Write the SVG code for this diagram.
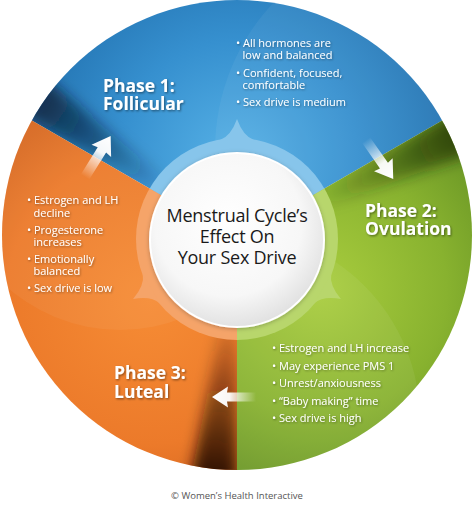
<svg xmlns="http://www.w3.org/2000/svg" width="474" height="509" viewBox="0 0 474 509">
<defs>
<style>
.ph{font-family:"Open Sans","DejaVu Sans",sans-serif;font-weight:700;font-size:17.5px;fill:#fff;filter:url(#ts)}
.li{font-family:"Open Sans","DejaVu Sans",sans-serif;font-size:11px;fill:#fff;filter:url(#ts2)}
.ct{font-family:"Open Sans","DejaVu Sans",sans-serif;font-size:18px;fill:#1a1a1a;letter-spacing:-0.25px;text-anchor:middle}
.cp{font-family:"Open Sans","DejaVu Sans",sans-serif;font-size:9.5px;fill:#555;text-anchor:middle}
</style>
<filter id="ts" x="-10%" y="-20%" width="130%" height="150%"><feDropShadow dx="1" dy="1.2" stdDeviation="1.2" flood-color="#000" flood-opacity="0.45"/></filter>
<filter id="ts2" x="-10%" y="-30%" width="130%" height="170%"><feDropShadow dx="0.8" dy="1" stdDeviation="0.9" flood-color="#000" flood-opacity="0.4"/></filter>
<filter id="blur"><feGaussianBlur stdDeviation="7"/></filter>
<filter id="ws" x="-20%" y="-20%" width="140%" height="140%"><feDropShadow dx="0" dy="1" stdDeviation="2" flood-color="#000" flood-opacity="0.25"/></filter>
<clipPath id="disk"><circle cx="237" cy="235" r="235"/></clipPath>
<clipPath id="cBlue"><polygon points="237,239 -109.4,39 -200,-300 700,-300 583.4,39"/></clipPath>
<clipPath id="cGreen"><polygon points="237,239 583.4,39 700,39 700,700 237,700"/></clipPath>
<clipPath id="cOrange"><polygon points="237,239 237,700 -200,700 -200,39 -109.4,39"/></clipPath>
<radialGradient id="gBlue" gradientUnits="userSpaceOnUse" cx="237" cy="160" r="240"><stop offset="0" stop-color="#56b1e6"/><stop offset="0.5" stop-color="#3690cf"/><stop offset="1" stop-color="#1f6dab"/></radialGradient>
<radialGradient id="gGreen" gradientUnits="userSpaceOnUse" cx="320" cy="290" r="230"><stop offset="0" stop-color="#a9cd3e"/><stop offset="0.55" stop-color="#88b22f"/><stop offset="1" stop-color="#5f8c22"/></radialGradient>
<radialGradient id="gOrange" gradientUnits="userSpaceOnUse" cx="150" cy="300" r="240"><stop offset="0" stop-color="#f68c35"/><stop offset="0.6" stop-color="#ec7a2a"/><stop offset="1" stop-color="#cd5f1b"/></radialGradient>
<linearGradient id="shB" gradientUnits="userSpaceOnUse" x1="237" y1="239" x2="44.5" y2="104.2"><stop offset="0.35" stop-color="#0a1a30" stop-opacity="0"/><stop offset="1" stop-color="#0a1a30" stop-opacity="0.75"/></linearGradient>
<linearGradient id="shG" gradientUnits="userSpaceOnUse" x1="237" y1="239" x2="450" y2="139.7"><stop offset="0.35" stop-color="#1a2a05" stop-opacity="0"/><stop offset="1" stop-color="#1a2a05" stop-opacity="0.7"/></linearGradient>
<linearGradient id="shO" gradientUnits="userSpaceOnUse" x1="237" y1="239" x2="216.5" y2="473"><stop offset="0.3" stop-color="#2a0e00" stop-opacity="0"/><stop offset="1" stop-color="#2a0e00" stop-opacity="0.95"/></linearGradient>
<radialGradient id="gWhite" cx="0.45" cy="0.4" r="0.65"><stop offset="0" stop-color="#ffffff"/><stop offset="0.65" stop-color="#f7f7f7"/><stop offset="1" stop-color="#dcdcdc"/></radialGradient>
<linearGradient id="gArrow" gradientUnits="userSpaceOnUse" x1="0" y1="0" x2="44" y2="0"><stop offset="0" stop-color="#fff" stop-opacity="0"/><stop offset="0.6" stop-color="#fff" stop-opacity="0.95"/><stop offset="1" stop-color="#fff"/></linearGradient>
<path id="arrow" d="M0,-4.5 L29,-4.5 L28,-10.5 L44,0 L28,10.5 L29,4.5 L0,4.5 Z"/>
<path id="bump" d="M-17,-99 Q-6,-103 0,-120 Q6,-103 17,-99 Z"/>
</defs>
<rect width="474" height="509" fill="#fff"/>

<g id="wheel" clip-path="url(#disk)">
  <g id="phase1-sector" clip-path="url(#cBlue)">
    <rect x="0" y="0" width="474" height="474" fill="url(#gBlue)"/>
    <circle cx="430" cy="150" r="215" fill="#fff" opacity="0.05"/>
    <polygon points="237,239 -22.8,89 7.2,46.2" fill="url(#shB)" filter="url(#blur)"/>
  </g>
  <g id="phase2-sector" clip-path="url(#cGreen)">
    <rect x="0" y="0" width="474" height="474" fill="url(#gGreen)"/>
    <circle cx="230" cy="420" r="190" fill="#fff" opacity="0.06"/>
    <polygon points="237,239 496.8,89 518.9,136.4" fill="url(#shG)" filter="url(#blur)"/>
  </g>
  <g id="phase3-sector" clip-path="url(#cOrange)">
    <rect x="0" y="0" width="474" height="474" fill="url(#gOrange)"/>
    <circle cx="120" cy="160" r="170" fill="#fff" opacity="0.05"/>
    <polygon points="237,239 237,539 180,534" fill="url(#shO)" filter="url(#blur)"/>
  </g>
</g>

<g id="ring">
  <g clip-path="url(#cBlue)"><circle cx="237" cy="239" r="101" fill="#87c5eb"/></g>
  <g clip-path="url(#cGreen)"><circle cx="237" cy="239" r="101" fill="#b8d66c"/></g>
  <g clip-path="url(#cOrange)"><circle cx="237" cy="239" r="101" fill="#f5a469"/></g>
  <use href="#bump" transform="translate(237,239)" fill="#87c5eb"/>
  <use href="#bump" transform="translate(237,239) rotate(120)" fill="#b8d66c"/>
  <use href="#bump" transform="translate(237,239) rotate(-120)" fill="#f5a469"/>
</g>

<g id="center">
  <circle cx="237" cy="240" r="87" fill="url(#gWhite)" stroke="#fff" stroke-width="2" filter="url(#ws)"/>
  <text class="ct" x="237" y="221.5">Menstrual Cycle’s</text>
  <text class="ct" x="237" y="242.5">Effect On</text>
  <text class="ct" x="237" y="263.5">Your Sex Drive</text>
</g>

<g id="connectors">
  <use href="#arrow" fill="url(#gArrow)" transform="translate(85,177) rotate(-58) scale(1.1)"/>
  <use href="#arrow" fill="url(#gArrow)" transform="translate(366,140) rotate(55) scale(1.08)"/>
  <use href="#arrow" fill="url(#gArrow)" transform="translate(256,397) rotate(180)"/>
</g>

<g id="phase1">
  <text class="ph" x="103" y="91.5">Phase 1:<tspan x="103" y="110">Follicular</tspan></text>
  <text class="li" x="236" y="46.5">• All hormones are<tspan x="242.5" y="59">low and balanced</tspan></text>
  <text class="li" x="236" y="76.5">• Confident, focused,<tspan x="242.5" y="89">comfortable</tspan></text>
  <text class="li" x="236" y="106">• Sex drive is medium</text>
</g>

<g id="phase2">
  <text class="ph" x="365" y="216.5">Phase 2:<tspan x="365" y="235">Ovulation</tspan></text>
  <text class="li" x="272" y="352">• Estrogen and LH increase</text>
  <text class="li" x="272" y="369.5">• May experience PMS 1</text>
  <text class="li" x="272" y="387">• Unrest/anxiousness</text>
  <text class="li" x="272" y="404.5">• “Baby making” time</text>
  <text class="li" x="272" y="422">• Sex drive is high</text>
</g>

<g id="phase3">
  <text class="ph" x="114" y="379">Phase 3:<tspan x="114" y="397.5">Luteal</tspan></text>
  <text class="li" x="27" y="204">• Estrogen and LH<tspan x="33.5" y="216.5">decline</tspan></text>
  <text class="li" x="27" y="233.5">• Progesterone<tspan x="33.5" y="246">increases</tspan></text>
  <text class="li" x="27" y="262.5">• Emotionally<tspan x="33.5" y="275">balanced</tspan></text>
  <text class="li" x="27" y="292">• Sex drive is low</text>
</g>

<text class="cp" x="237" y="499">© Women’s Health Interactive</text>
</svg>
